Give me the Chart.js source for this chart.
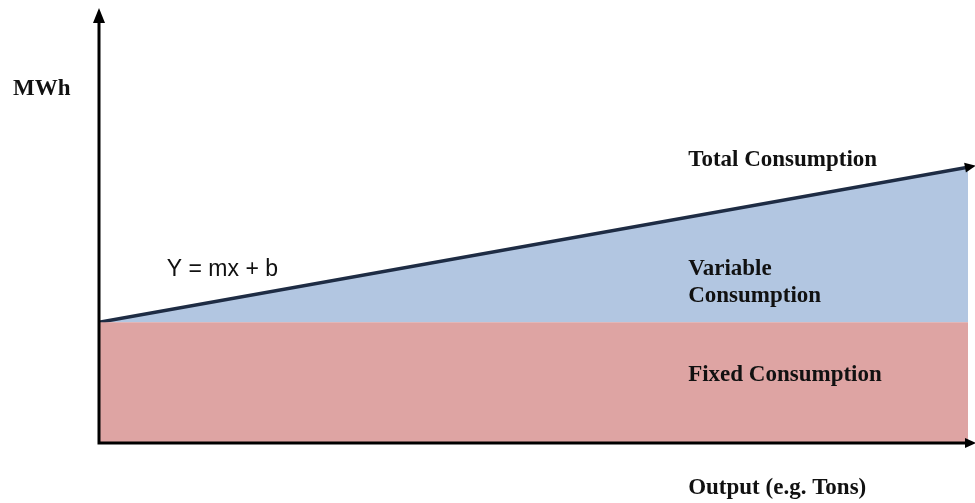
<!DOCTYPE html>
<html>
<head>
<meta charset="utf-8">
<script src="https://cdn.jsdelivr.net/npm/chart.js@4.4.1/dist/chart.umd.min.js"></script>
<style>
  html, body { margin: 0; padding: 0; background: #fff; }
  #wrap { width: 975px; height: 503px; position: relative; }
</style>
</head>
<body>
<div id="wrap"><canvas id="chart" width="975" height="503"></canvas></div>
<script>
  // Output (x) runs 0..1, MWh (y) runs 0..100
  const outputX = [0, 1];
  const fixedConsumption = [28, 28];
  const totalConsumption = [28, 64];

  // label text + baseline anchor in data units
  const labels = [
    { text: 'MWh', x: -0.099, y: 80.7, font: 'bold 23px "Liberation Serif"' },
    { text: 'Total Consumption', x: 0.678, y: 64.2, font: 'bold 23px "Liberation Serif"' },
    { text: 'Variable', x: 0.678, y: 39.0, font: 'bold 23px "Liberation Serif"' },
    { text: 'Consumption', x: 0.678, y: 32.7, font: 'bold 23px "Liberation Serif"' },
    { text: 'Fixed Consumption', x: 0.678, y: 14.4, font: 'bold 23px "Liberation Serif"' },
    { text: 'Output (e.g. Tons)', x: 0.678, y: -11.8, font: 'bold 23px "Liberation Serif"' },
    { text: 'Y = mx + b', x: 0.078, y: 38.75, font: '23px "Liberation Sans"' }
  ];

  const COLORS = {
    fixed: 'rgb(222, 164, 163)',
    variable: 'rgb(178, 198, 225)',
    total: 'rgb(30, 44, 68)',
    axis: '#000'
  };

  function arrow(ctx, tipX, tipY, dx, dy, len, half) {
    // dx,dy unit direction of the arrow
    const bx = tipX - dx * len, by = tipY - dy * len;
    ctx.beginPath();
    ctx.moveTo(tipX, tipY);
    ctx.lineTo(bx - dy * half, by + dx * half);
    ctx.lineTo(bx + dy * half, by - dx * half);
    ctx.closePath();
    ctx.fill();
  }

  const decorPlugin = {
    id: 'decor',
    afterDatasetsDraw(chart) {
      const ctx = chart.ctx;
      const xs = chart.scales.x, ys = chart.scales.y;
      const x0 = xs.getPixelForValue(0), y0 = ys.getPixelForValue(0);
      const x1 = xs.getPixelForValue(1);
      const yTop = ys.getPixelForValue(100);
      ctx.save();
      // axes
      ctx.strokeStyle = COLORS.axis;
      ctx.fillStyle = COLORS.axis;
      ctx.lineWidth = 3;
      ctx.beginPath();
      ctx.moveTo(x0, y0 + 1.5);
      ctx.lineTo(x0, yTop + 10);
      ctx.moveTo(x0 - 1.5, y0);
      ctx.lineTo(x1 + 2, y0);
      ctx.stroke();
      arrow(ctx, x0, yTop - 4, 0, -1, 15, 6);
      arrow(ctx, x1 + 8, y0, 1, 0, 11, 5);
      // total line arrow head
      const tx0 = xs.getPixelForValue(outputX[0]), ty0 = ys.getPixelForValue(totalConsumption[0]);
      const tx1 = xs.getPixelForValue(outputX[1]), ty1 = ys.getPixelForValue(totalConsumption[1]);
      const len = Math.hypot(tx1 - tx0, ty1 - ty0);
      const ux = (tx1 - tx0) / len, uy = (ty1 - ty0) / len;
      arrow(ctx, tx1 + ux * 8, ty1 + uy * 8, ux, uy, 11, 5);
      // labels
      ctx.textBaseline = 'alphabetic';
      ctx.textAlign = 'left';
      labels.forEach(function (l) {
        ctx.font = l.font;
        ctx.fillStyle = '#111';
        ctx.fillText(l.text, xs.getPixelForValue(l.x), ys.getPixelForValue(l.y));
      });
      ctx.restore();
    }
  };

  new Chart(document.getElementById('chart'), {
    type: 'line',
    data: {
      labels: outputX,
      datasets: [
        {
          label: 'Fixed Consumption',
          data: fixedConsumption,
          borderWidth: 0,
          backgroundColor: COLORS.fixed,
          fill: 'origin',
          pointRadius: 0
        },
        {
          label: 'Total Consumption',
          data: totalConsumption,
          borderColor: COLORS.total,
          borderWidth: 3.5,
          backgroundColor: COLORS.variable,
          fill: '-1',
          pointRadius: 0
        }
      ]
    },
    options: {
      responsive: false,
      animation: false,
      devicePixelRatio: 1,
      layout: { padding: { left: 99, right: 7, top: 12, bottom: 60 } },
      plugins: {
        legend: { display: false },
        tooltip: { enabled: false }
      },
      scales: {
        x: {
          type: 'linear', min: 0, max: 1, display: false
        },
        y: {
          min: 0, max: 100, display: false
        }
      }
    },
    plugins: [decorPlugin]
  });
</script>
</body>
</html>
